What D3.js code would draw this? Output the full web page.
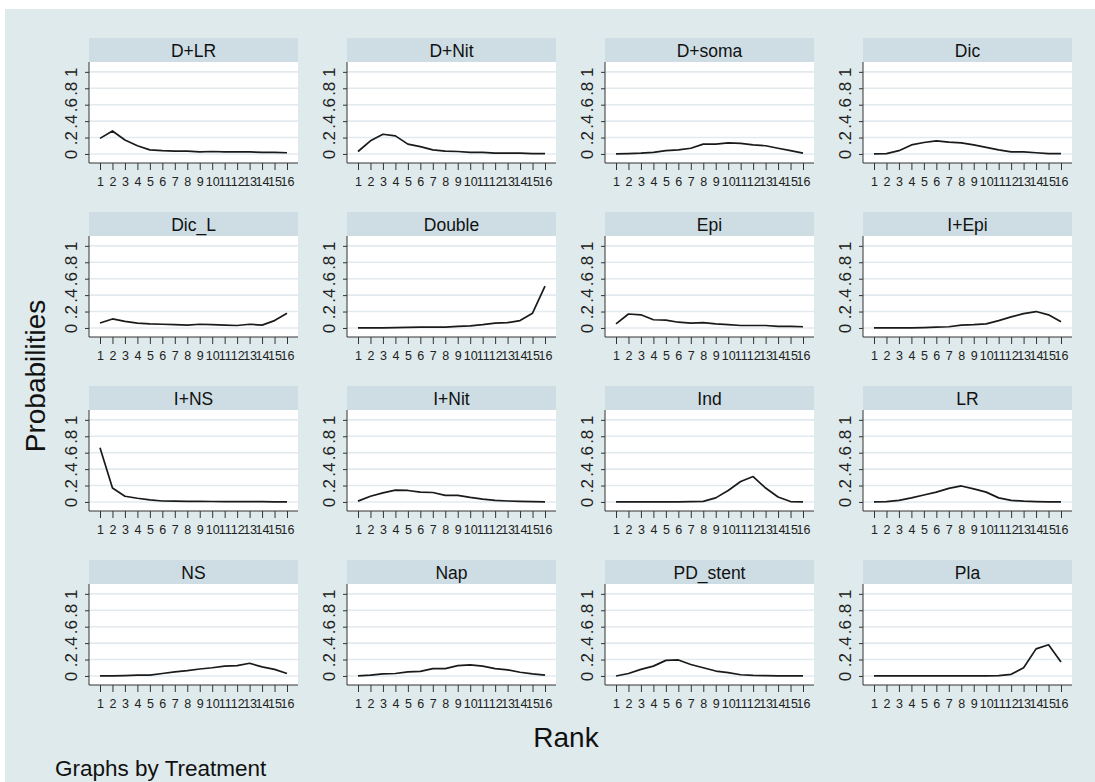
<!DOCTYPE html>
<html><head><meta charset="utf-8">
<script src="https://cdn.jsdelivr.net/npm/d3@7"></script>
<style>body{margin:0;background:#fff}svg{display:block}</style>
</head><body>
<script>
const treatments = ["D+LR","D+Nit","D+soma","Dic","Dic_L","Double","Epi","I+Epi","I+NS","I+Nit","Ind","LR","NS","Nap","PD_stent","Pla"];
const ranks = [1,2,3,4,5,6,7,8,9,10,11,12,13,14,15,16];
const yTicks = [0,0.2,0.4,0.6,0.8,1];
const yTickLabels = ["0",".2",".4",".6",".8","1"];

const pDLR    = [0.19,0.28,0.17,0.10,0.05,0.04,0.035,0.035,0.025,0.03,0.025,0.025,0.025,0.02,0.02,0.015];
const pDNit   = [0.03,0.16,0.24,0.22,0.12,0.09,0.05,0.035,0.03,0.02,0.02,0.01,0.01,0.01,0.005,0.005];
const pDsoma  = [0,0.005,0.01,0.02,0.04,0.05,0.07,0.12,0.12,0.135,0.13,0.11,0.10,0.07,0.04,0.01];
const pDic    = [0,0.005,0.04,0.11,0.14,0.16,0.145,0.135,0.11,0.08,0.05,0.025,0.025,0.015,0.005,0.003];
const pDicL   = [0.06,0.11,0.08,0.06,0.05,0.045,0.04,0.035,0.045,0.04,0.035,0.03,0.045,0.035,0.09,0.18];
const pDouble = [0,0,0.002,0.005,0.008,0.01,0.01,0.01,0.02,0.025,0.04,0.06,0.065,0.09,0.18,0.51];
const pEpi    = [0.05,0.17,0.16,0.10,0.095,0.07,0.06,0.065,0.05,0.04,0.03,0.03,0.03,0.02,0.02,0.015];
const pIEpi   = [0,0,0,0.002,0.005,0.01,0.015,0.035,0.04,0.05,0.09,0.135,0.175,0.20,0.16,0.075];
const pINS    = [0.66,0.17,0.07,0.045,0.025,0.012,0.01,0.008,0.007,0.006,0.005,0.005,0.004,0.003,0.002,0.002];
const pINit   = [0.01,0.07,0.11,0.145,0.14,0.12,0.115,0.08,0.08,0.055,0.035,0.02,0.012,0.007,0.004,0.002];
const pInd    = [0,0,0,0,0,0,0.003,0.008,0.05,0.14,0.25,0.31,0.17,0.06,0.005,0.002];
const pLR     = [0,0.005,0.02,0.05,0.085,0.12,0.165,0.195,0.16,0.12,0.05,0.02,0.01,0.005,0.002,0.001];
const pNS     = [0,0,0.005,0.01,0.01,0.03,0.05,0.065,0.085,0.10,0.12,0.125,0.155,0.11,0.08,0.03];
const pNap    = [0.002,0.01,0.025,0.03,0.05,0.055,0.09,0.09,0.125,0.135,0.12,0.09,0.075,0.045,0.025,0.01];
const pPDst   = [0,0.03,0.08,0.12,0.19,0.195,0.14,0.10,0.06,0.04,0.015,0.007,0.003,0.002,0.001,0];
const pPla    = [0,0,0,0,0,0,0,0,0,0,0.005,0.02,0.10,0.33,0.38,0.17];

const series = [pDLR,pDNit,pDsoma,pDic,pDicL,pDouble,pEpi,pIEpi,pINS,pINit,pInd,pLR,pNS,pNap,pPDst,pPla];

const W = 1095, H = 782;
const svg = d3.select("body").append("svg").attr("width", W).attr("height", H);
const font = "'Liberation Sans', Arial, sans-serif";

svg.append("rect").attr("x",5).attr("y",9).attr("width",W-5).attr("height",H-9).attr("fill","#dfeaec");

const colLeft = [89, 347, 605, 863];
const rowZero = [154, 328, 502, 676];
const pw = 209;

treatments.forEach((t, i) => {
  const c = i % 4, r = Math.floor(i / 4);
  const x0 = colLeft[c], z = rowZero[r];
  const top = z - 92, bot = z + 9;
  const g = svg.append("g");
  g.append("rect").attr("x", x0).attr("y", z - 116).attr("width", pw).attr("height", 24).attr("fill", "#cddde3");
  g.append("text").attr("x", x0 + pw/2).attr("y", z - 97.5).attr("text-anchor","middle")
    .attr("font-family", font).attr("font-size", 17.5).attr("fill","#111").text(t);
  g.append("rect").attr("x", x0).attr("y", top).attr("width", pw).attr("height", bot - top).attr("fill","#fff");

  const x = d3.scaleLinear().domain([1,16]).range([x0 + 11, x0 + 198]);
  const y = d3.scaleLinear().domain([-0.11, 1.12]).range([bot, top]);

  g.append("g").selectAll("line").data(yTicks).join("line")
    .attr("x1", x0).attr("x2", x0 + pw).attr("y1", d => y(d)).attr("y2", d => y(d))
    .attr("stroke", "#e2eaee").attr("stroke-width", 1.6);

  const ya = g.append("g").attr("transform", `translate(${x0},0)`)
    .call(d3.axisLeft(y).tickValues(yTicks).tickSize(4).tickFormat((d,k) => yTickLabels[k]));
  ya.select(".domain").attr("stroke","#333").attr("d", `M0,${top}V${bot}`);
  ya.selectAll(".tick line").attr("stroke","#333");
  ya.selectAll(".tick text").attr("font-family", font).attr("font-size", 17).attr("fill","#222")
    .attr("text-anchor","middle").attr("x", 0).attr("dy", 0)
    .attr("transform", "translate(-12,0) rotate(-90)");

  const xa = g.append("g").attr("transform", `translate(0,${bot})`)
    .call(d3.axisBottom(x).tickValues(ranks).tickSize(7).tickFormat(d3.format("d")));
  xa.select(".domain").attr("stroke","#333").attr("d", `M${x0},0H${x0+pw}`);
  xa.selectAll(".tick line").attr("stroke","#333");
  xa.selectAll(".tick text").attr("font-family", font).attr("font-size", 12.5).attr("fill","#222").attr("y", 14);

  const line = d3.line().x((d,k) => x(ranks[k])).y(d => y(d));
  g.append("path").datum(series[i]).attr("d", line).attr("fill","none")
    .attr("stroke","#1a1a1a").attr("stroke-width",1.7).attr("stroke-linejoin","round");
});

svg.append("text").attr("transform","translate(45,376) rotate(-90)").attr("text-anchor","middle")
  .attr("font-family", font).attr("font-size", 28).attr("fill","#111").text("Probabilities");
svg.append("text").attr("x", 566).attr("y", 747).attr("text-anchor","middle")
  .attr("font-family", font).attr("font-size", 28).attr("fill","#111").text("Rank");
svg.append("text").attr("x", 55).attr("y", 776)
  .attr("font-family", font).attr("font-size", 22.5).attr("fill","#111").text("Graphs by Treatment");
</script>
</body></html>
